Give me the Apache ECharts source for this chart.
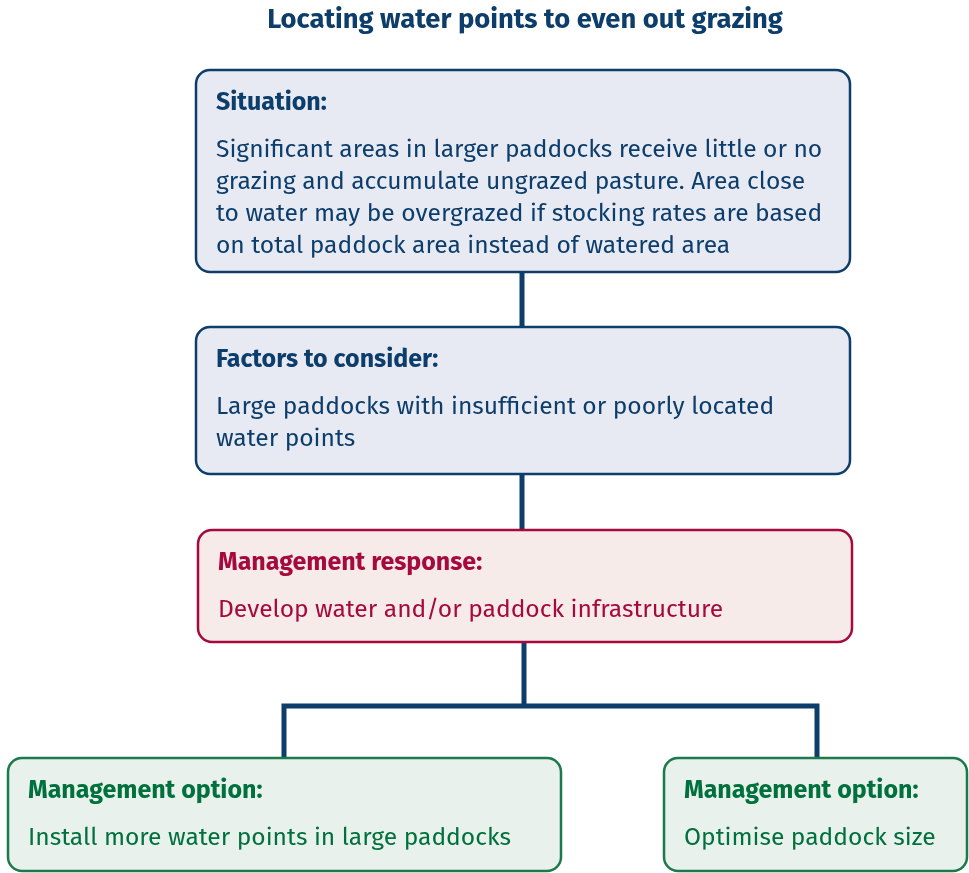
<!DOCTYPE html>
<html>
<head>
<meta charset="utf-8">
<script src="https://cdn.jsdelivr.net/npm/echarts@6/dist/echarts.min.js"></script>
<style>
  html, body { margin: 0; padding: 0; background: #fff; }
  #chart { width: 969px; height: 873px; }
</style>
</head>
<body>
<div id="chart"></div>
<script>
// texts of the flowchart
const title = 'Locating water points to even out grazing'
const headings = ['Situation:', 'Factors to consider:', 'Management response:', 'Management option:', 'Management option:']
const bodies = [
  ['Significant areas in larger paddocks receive little or no',
   'grazing and accumulate ungrazed pasture. Area close',
   'to water may be overgrazed if stocking rates are based',
   'on total paddock area instead of watered area'],
  ['Large paddocks with insufficient or poorly located',
   'water points'],
  ['Develop water and/or paddock infrastructure'],
  ['Install more water points in large paddocks'],
  ['Optimise paddock size']
]
const kinds = ['blue', 'blue', 'red', 'green', 'green']

// layout
const boxes = [
  { x: 196, y: 70, w: 654, h: 202 },
  { x: 196, y: 327, w: 654, h: 147 },
  { x: 198, y: 530, w: 654, h: 112 },
  { x: 8, y: 758, w: 553, h: 113 },
  { x: 664, y: 758, w: 303, h: 113 }
]
const palette = {
  blue: { fill: '#e7eaf2', stroke: '#0d3d6b', text: '#0d3d6b' },
  red: { fill: '#f6ebe9', stroke: '#a6093d', text: '#a6093d' },
  green: { fill: '#e8f1ec', stroke: '#1a7a4c', text: '#00703c' }
}
const FONT = '"Fira Sans", "Open Sans", "Noto Sans", sans-serif'
const lineColor = '#0d3d6b'

const chart = echarts.init(document.getElementById('chart'))

const elements = []

// connectors
elements.push(
  { type: 'line', shape: { x1: 522, y1: 272, x2: 522, y2: 327 }, style: { stroke: lineColor, lineWidth: 5 } },
  { type: 'line', shape: { x1: 522, y1: 474, x2: 522, y2: 530 }, style: { stroke: lineColor, lineWidth: 5 } },
  { type: 'line', shape: { x1: 524, y1: 642, x2: 524, y2: 706 }, style: { stroke: lineColor, lineWidth: 5 } },
  { type: 'polyline', shape: { points: [[284, 758], [284, 706], [817, 706], [817, 758]] }, style: { stroke: lineColor, lineWidth: 5, fill: null } }
)

boxes.forEach((b, i) => {
  const c = palette[kinds[i]]
  const pad = 20
  elements.push({
    type: 'rect',
    shape: { x: b.x, y: b.y, width: b.w, height: b.h, r: 14 },
    style: { fill: c.fill, stroke: c.stroke, lineWidth: 2.5 }
  })
  elements.push({
    type: 'text',
    x: b.x + pad,
    y: b.y + 33,
    style: {
      text: headings[i],
      font: 'bold 25px ' + FONT,
      fill: c.text,
      verticalAlign: 'middle'
    }
  })
  elements.push({
    type: 'text',
    x: b.x + pad,
    y: b.y + 64,
    style: {
      text: bodies[i].join('\n'),
      font: '24.6px ' + FONT,
      lineHeight: 32,
      fill: c.text,
      verticalAlign: 'top'
    }
  })
})

chart.setOption({
  title: {
    text: title,
    left: 520,
    top: 2,
    textAlign: 'center',
    textStyle: { fontFamily: FONT, fontSize: 27.4, fontWeight: 'bold', color: '#0d3d6b' }
  },
  graphic: { elements: elements }
})
</script>
</body>
</html>
